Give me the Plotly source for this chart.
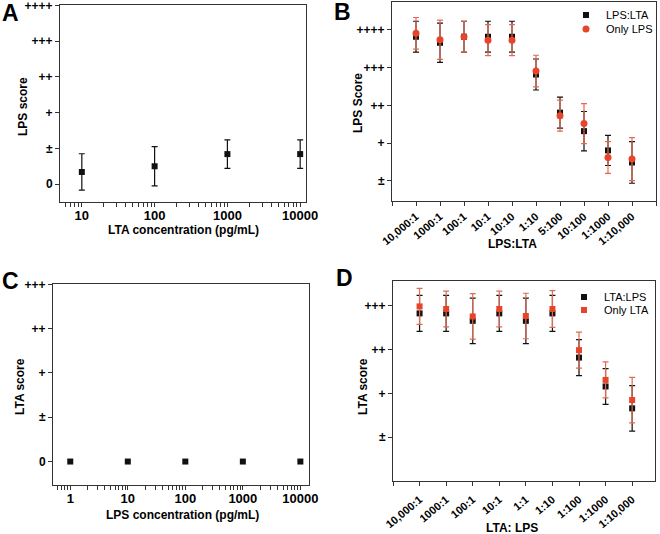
import plotly.graph_objects as go

W, H = 660, 534

# ---------------- data ----------------
# Panel A
a_conc = [10, 100, 1000, 10000]
a_mean = [0.34, 0.50, 0.84, 0.84]
a_err = [0.51, 0.55, 0.40, 0.40]
a_yticks = [0, 1, 2, 3, 4, 5]
a_ytext = ["0", "±", "+", "++", "+++", "++++"]

# Panel B
b_cats = ["10,000:1", "1000:1", "100:1", "10:1", "10:10", "1:10", "5:100", "10:100", "1:1000", "1:10,000"]
b_mix_mean = [4.82, 4.66, 4.82, 4.82, 4.82, 3.82, 2.81, 2.32, 1.81, 1.49]
b_mix_err = [0.41, 0.52, 0.41, 0.41, 0.41, 0.41, 0.41, 0.52, 0.40, 0.55]
b_only_mean = [4.91, 4.74, 4.82, 4.73, 4.73, 3.91, 2.73, 2.52, 1.62, 1.58]
b_only_err = [0.42, 0.52, 0.41, 0.41, 0.41, 0.42, 0.41, 0.53, 0.42, 0.57]
b_yticks = [1, 2, 3, 4, 5]
b_ytext = ["±", "+", "++", "+++", "++++"]

# Panel C
c_conc = [1, 10, 100, 1000, 10000]
c_mean = [0, 0, 0, 0, 0]
c_yticks = [0, 1, 2, 3, 4]
c_ytext = ["0", "±", "+", "++", "+++"]

# Panel D
d_cats = ["10,000:1", "1000:1", "100:1", "10:1", "1:1", "1:10", "1:100", "1:1000", "1:10,000"]
d_mix_mean = [3.83, 3.83, 3.66, 3.83, 3.66, 3.83, 2.82, 2.16, 1.66]
d_mix_err = [0.41, 0.41, 0.52, 0.41, 0.52, 0.41, 0.41, 0.41, 0.52]
d_only_mean = [3.99, 3.93, 3.76, 3.93, 3.77, 3.93, 2.99, 2.31, 1.85]
d_only_err = [0.41, 0.41, 0.52, 0.41, 0.52, 0.42, 0.41, 0.41, 0.52]
d_yticks = [1, 2, 3, 4]
d_ytext = ["±", "+", "++", "+++"]

# ---------------- style ----------------
FONT = "Liberation Sans, Arial, sans-serif"
BLACK = "#111111"
RED = "#e8442a"
RED_ERR = "#e36a52"
AXC = "#333333"


def px_x(p):
    return p / W


def px_y(p):
    return 1 - p / H


def log_ticks(lo, hi, labelled):
    """Decade ticks carry labels, the 2..9 sub-decade ticks are unlabelled."""
    vals, texts = [], []
    for k in range(lo, hi + 1):
        for m in range(1, 10):
            v = m * 10 ** k
            if m == 1:
                vals.append(v)
                texts.append(str(v) if v in labelled else "")
            elif k < hi:
                vals.append(v)
                texts.append("")
    return vals, texts


a_tv, a_tt = log_ticks(0, 4, a_conc)
c_tv, c_tt = log_ticks(-1, 4, c_conc)

fig = go.Figure()

# Panel A
fig.add_trace(go.Scatter(x=a_conc, y=a_mean, mode="markers", xaxis="x", yaxis="y",
                         marker=dict(symbol="square", size=6, color=BLACK),
                         error_y=dict(type="data", array=a_err, color=BLACK, thickness=1.2, width=3),
                         showlegend=False))

# Panel B
fig.add_trace(go.Scatter(x=list(range(len(b_cats))), y=b_mix_mean, mode="markers", xaxis="x2", yaxis="y2",
                         name="LPS:LTA", legend="legend",
                         marker=dict(symbol="square", size=6, color=BLACK),
                         error_y=dict(type="data", array=b_mix_err, color=BLACK, thickness=1.2, width=3)))
fig.add_trace(go.Scatter(x=list(range(len(b_cats))), y=b_only_mean, mode="markers", xaxis="x2", yaxis="y2",
                         name="Only LPS", legend="legend2",
                         marker=dict(symbol="circle", size=7, color=RED),
                         error_y=dict(type="data", array=b_only_err, color=RED_ERR, thickness=1.2, width=3)))

# Panel C
fig.add_trace(go.Scatter(x=c_conc, y=c_mean, mode="markers", xaxis="x3", yaxis="y3",
                         marker=dict(symbol="square", size=6, color=BLACK), showlegend=False))

# Panel D
fig.add_trace(go.Scatter(x=list(range(len(d_cats))), y=d_mix_mean, mode="markers", xaxis="x4", yaxis="y4",
                         name="LTA:LPS", legend="legend3",
                         marker=dict(symbol="square", size=6, color=BLACK),
                         error_y=dict(type="data", array=d_mix_err, color=BLACK, thickness=1.2, width=3)))
fig.add_trace(go.Scatter(x=list(range(len(d_cats))), y=d_only_mean, mode="markers", xaxis="x4", yaxis="y4",
                         name="Only LTA", legend="legend4",
                         marker=dict(symbol="square", size=6, color=RED),
                         error_y=dict(type="data", array=d_only_err, color=RED_ERR, thickness=1.2, width=3)))

xtickfont = dict(family=FONT, size=13, color="black", weight="bold")
cattickfont = dict(family=FONT, size=11, color="black", weight="bold")
ytickfont = dict(family=FONT, size=12, color="black", weight="bold")
common = dict(showgrid=False, zeroline=False, showline=True, mirror=True, linecolor=AXC, linewidth=1,
              ticks="outside", tickcolor=AXC, ticklen=4, automargin=False, ticklabeloverflow="allow")

legfont = dict(family=FONT, size=11, color="black")


def leg(xp, yp):
    return dict(x=px_x(xp), y=px_y(yp), xanchor="left", yanchor="middle", bgcolor="rgba(0,0,0,0)",
                font=legfont, itemwidth=30, borderwidth=0)


fig.update_layout(
    width=W, height=H, margin=dict(l=0, r=0, t=0, b=0, autoexpand=False),
    paper_bgcolor="white", plot_bgcolor="white",
    xaxis=dict(common, domain=[px_x(60), px_x(306)], anchor="y", type="log", range=[0.70, 4.08],
               tickmode="array", tickvals=a_tv, ticktext=a_tt, tickfont=xtickfont,
               ticklabelstandoff=-3),
    yaxis=dict(common, domain=[px_y(202), px_y(5)], anchor="x", range=[-0.5, 5.01],
               tickvals=a_yticks, ticktext=a_ytext, tickfont=ytickfont),
    xaxis2=dict(common, domain=[px_x(392), px_x(656)], anchor="y2", range=[-1, 10],
                tickvals=list(range(-1, len(b_cats) + 1)), ticktext=[""] + b_cats + [""], tickangle=-40,
                tickfont=cattickfont),
    yaxis2=dict(common, domain=[px_y(201), px_y(2)], anchor="x2", range=[0.47, 5.74],
                tickvals=b_yticks, ticktext=b_ytext, tickfont=ytickfont),
    xaxis3=dict(common, domain=[px_x(53), px_x(309)], anchor="y3", type="log", range=[-0.30, 4.15],
                tickmode="array", tickvals=c_tv, ticktext=c_tt, tickfont=xtickfont,
                ticklabelstandoff=-3),
    yaxis3=dict(common, domain=[px_y(485), px_y(284)], anchor="x3", range=[-0.53, 4.01],
                tickvals=c_yticks, ticktext=c_ytext, tickfont=ytickfont),
    xaxis4=dict(common, domain=[px_x(393), px_x(655)], anchor="y4", range=[-1, 8.86],
                tickvals=list(range(-1, len(d_cats))), ticktext=[""] + d_cats, tickangle=-40,
                tickfont=cattickfont, ticklabelstandoff=3),
    yaxis4=dict(common, domain=[px_y(481), px_y(281)], anchor="x4", range=[0, 4.57],
                tickvals=d_yticks, ticktext=d_ytext, tickfont=ytickfont),
    legend=leg(566, 15),
    legend2=leg(566, 29),
    legend3=leg(564, 297),
    legend4=leg(564, 310),
)

titlefont = dict(family=FONT, size=12, color="black", weight="bold")
letterfont = dict(family=FONT, size=23, color="black", weight="bold")
annots = [
    ("A", 0, 13, 0, letterfont, "left"), ("B", 332, 12, 0, letterfont, "left"),
    ("C", 0, 281, 0, letterfont, "left"), ("D", 334, 278, 0, letterfont, "left"),
    ("LTA concentration (pg/mL)", 183, 230, 0, titlefont, "center"),
    ("LPS score", 23, 107, -90, titlefont, "center"),
    ("LPS:LTA", 512, 244, 0, titlefont, "center"),
    ("LPS Score", 358, 103, -90, titlefont, "center"),
    ("LPS concentration (pg/mL)", 182, 515, 0, titlefont, "center"),
    ("LTA score", 20, 387, -90, titlefont, "center"),
    ("LTA: LPS", 512, 528, 0, titlefont, "center"),
    ("LTA score", 363, 387, -90, titlefont, "center"),
]
for text, x, y, ang, f, xa in annots:
    fig.add_annotation(text=text, x=px_x(x), y=px_y(y), xref="paper", yref="paper",
                       showarrow=False, xanchor=xa, yanchor="middle", textangle=ang, font=f)

fig.write_html("out.html", config={"displayModeBar": False},
               post_script="document.body.style.margin='0';document.body.style.overflow='hidden';")
